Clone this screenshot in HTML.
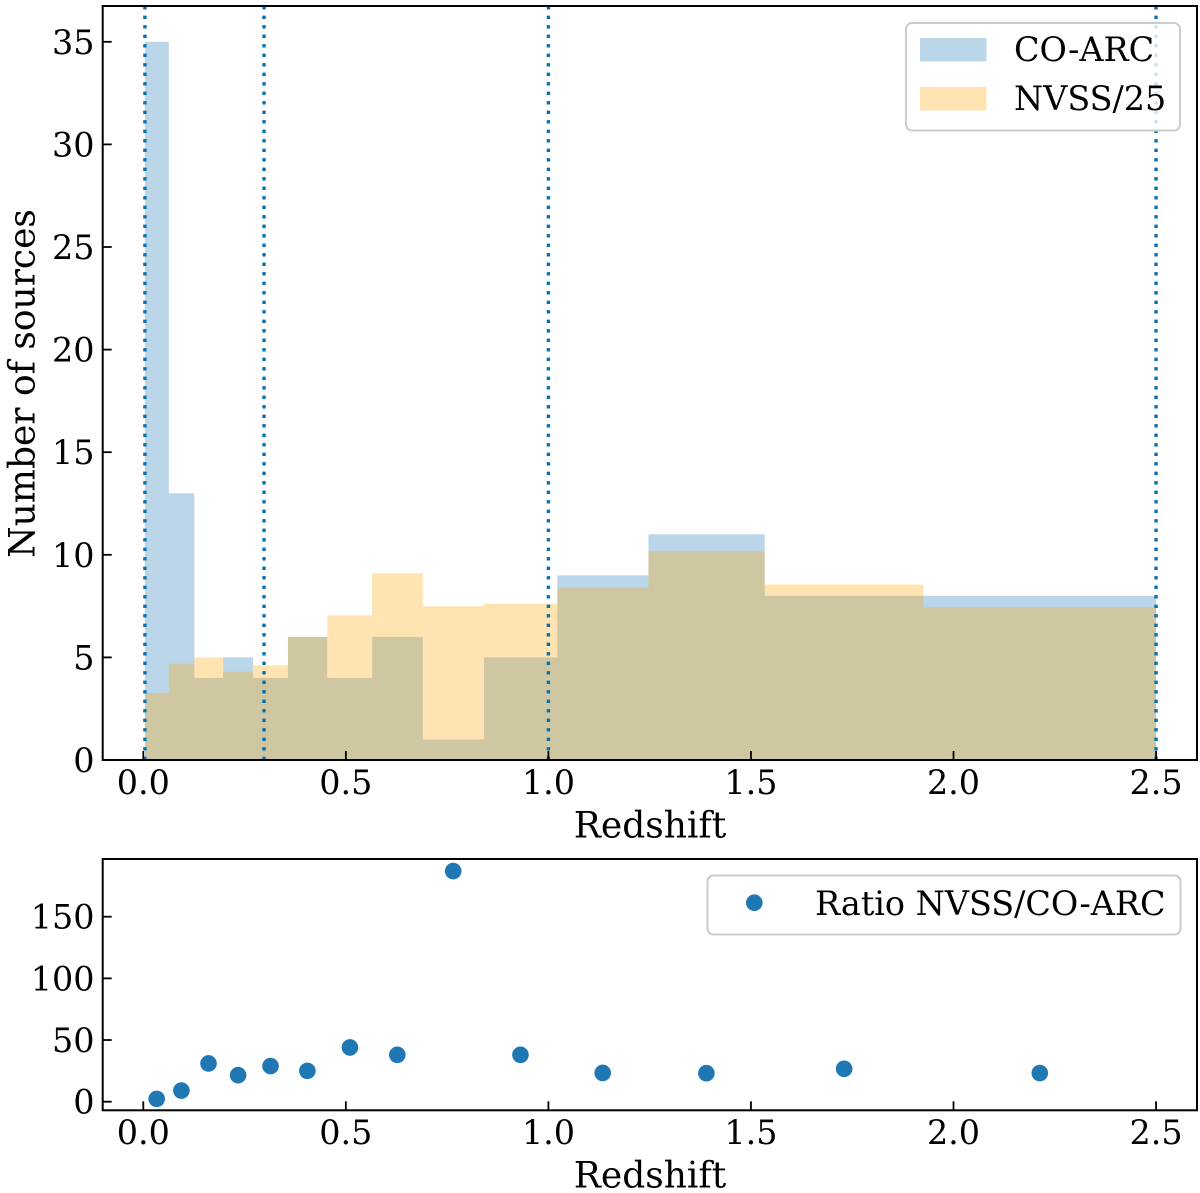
<!DOCTYPE html>
<html lang="en">
<head>
<meta charset="utf-8">
<title>Redshift distribution</title>
<style>
html,body{margin:0;padding:0;background:#fff;}
svg{display:block;}
text{font-family:"DejaVu Serif","Liberation Serif",serif;fill:#000;}
</style>
</head>
<body>
<svg id="chart" xmlns="http://www.w3.org/2000/svg" width="1200" height="1193" viewBox="0 0 1200 1193"></svg>
<script>
const binEdges = [0.004,0.063,0.126,0.197,0.271,0.357,0.454,0.565,0.69,0.841,1.022,1.247,1.534,1.926,2.5];
const coArcCounts = [35,13,4,5,4,6,4,6,1,5,9,11,8,8];
const nvssCounts = [3.27,4.69,5.0,4.3,4.62,6.0,7.05,9.1,7.49,7.62,8.4,10.17,8.55,7.43];
const redshiftLines = [0.004,0.298,1.0,2.5];
const ratioRedshift = [0.033,0.094,0.161,0.234,0.314,0.405,0.51,0.627,0.765,0.931,1.134,1.39,1.73,2.213];
const ratioValues = [2.3,9,31,21.5,28.9,25,44,38,187,38,23.3,23.1,26.7,23.2];
const xTickLabels = ['0.0','0.5','1.0','1.5','2.0','2.5'];
const histYTicks = ['0','5','10','15','20','25','30','35'];
const ratioYTicks = ['0','50','100','150'];

const NS = 'http://www.w3.org/2000/svg';
const svg = document.getElementById('chart');
const FONT = 33.4;
const TITLE_FONT = 36;
const xScale = z => 143.3 + z * 405.1;
const yHist = v => 760 - v * 20.52;
const yRatio = v => 1101.7 - v * 1.2333;

function mk(tag, attrs, parent) {
  const el = document.createElementNS(NS, tag);
  for (const k in attrs) el.setAttribute(k, attrs[k]);
  (parent || svg).appendChild(el);
  return el;
}
function stepPath(edges, values) {
  let d = 'M' + xScale(edges[0]) + ' ' + yHist(0);
  values.forEach((v, i) => {
    d += 'L' + xScale(edges[i]) + ' ' + yHist(v) + 'L' + xScale(edges[i + 1]) + ' ' + yHist(v);
  });
  return d + 'L' + xScale(edges[edges.length - 1]) + ' ' + yHist(0) + 'Z';
}

/* histogram panel */
const coArcHist = mk('path', {d: stepPath(binEdges, coArcCounts), fill: '#1f77b4', 'fill-opacity': 0.3});


const nvssHist = mk('path', {d: stepPath(binEdges, nvssCounts), fill: '#ffa500', 'fill-opacity': 0.3});



redshiftLines.forEach(z => {
  const line = mk('line', {x1: xScale(z), x2: xScale(z), y1: 760, y2: 6, stroke: '#0571b0', 'stroke-width': 3.4, 'stroke-dasharray': '3.4 6.1'});
  
  
});

/* ratio panel points */
ratioValues.forEach((v, i) => {
  const pt = mk('circle', {cx: xScale(ratioRedshift[i]), cy: yRatio(v), r: 8.3, fill: '#1f77b4'});
  
  
});

/* axes */
function panelFrame(top, bottom, name) {
  const frame = mk('rect', {x: 102.7, y: top, width: 1094.3, height: bottom - top, fill: 'none', stroke: '#000', 'stroke-width': 2});
  
  
}
function xTicks(bottom, labelY) {
  xTickLabels.forEach(label => {
    const x = xScale(parseFloat(label));
    const tick = mk('line', {x1: x, x2: x, y1: bottom, y2: bottom - 9, stroke: '#000', 'stroke-width': 1.8});
    
    
    const t = mk('text', {x: x, y: labelY, 'font-size': FONT, 'text-anchor': 'middle'});
    t.textContent = label;
    
    
  });
}
function yTicks(labels, scale) {
  labels.forEach(label => {
    const y = scale(parseFloat(label));
    const tick = mk('line', {x1: 102.7, x2: 111.7, y1: y, y2: y, stroke: '#000', 'stroke-width': 1.8});
    
    
    const t = mk('text', {x: 94.5, y: y + 12, 'font-size': FONT, 'text-anchor': 'end'});
    t.textContent = label;
    
    
  });
}
panelFrame(6, 760, 'histogram-axes-frame');
panelFrame(859, 1110.3, 'ratio-axes-frame');
xTicks(760, 794);
xTicks(1110.3, 1144);
yTicks(histYTicks, yHist);
yTicks(ratioYTicks, yRatio);

const xTitleTop = mk('text', {x: 650, y: 837.5, 'font-size': TITLE_FONT, 'text-anchor': 'middle'});
xTitleTop.textContent = 'Redshift';


const xTitleBottom = mk('text', {x: 650, y: 1187.5, 'font-size': TITLE_FONT, 'text-anchor': 'middle'});
xTitleBottom.textContent = 'Redshift';


const yTitle = mk('text', {x: 0, y: 0, 'font-size': TITLE_FONT, 'text-anchor': 'middle', transform: 'translate(34.5 383.5) rotate(-90)'});
yTitle.textContent = 'Number of sources';



/* legends */
function legendBox(x, y, w, h, name) {
  const box = mk('rect', {x: x, y: y, width: w, height: h, rx: 6, fill: '#fff', 'fill-opacity': 0.8, stroke: '#ccc', 'stroke-width': 2});
  
  
}
legendBox(906, 23, 274, 107.5, 'histogram-legend');
const swatchBlue = mk('rect', {x: 920, y: 38, width: 66.5, height: 23.5, fill: '#1f77b4', 'fill-opacity': 0.3});


const labelBlue = mk('text', {x: 1014, y: 61, 'font-size': FONT});
labelBlue.textContent = 'CO-ARC';


const swatchOrange = mk('rect', {x: 920, y: 87, width: 66.5, height: 23.5, fill: '#ffa500', 'fill-opacity': 0.3});


const labelOrange = mk('text', {x: 1014, y: 110, 'font-size': FONT});
labelOrange.textContent = 'NVSS/25';



legendBox(707.5, 875.5, 473, 59, 'ratio-legend');
const legendDot = mk('circle', {cx: 754.3, cy: 902.7, r: 8.3, fill: '#1f77b4'});


const labelRatio = mk('text', {x: 815, y: 915, 'font-size': FONT});
labelRatio.textContent = 'Ratio NVSS/CO-ARC';


</script>
</body>
</html>
